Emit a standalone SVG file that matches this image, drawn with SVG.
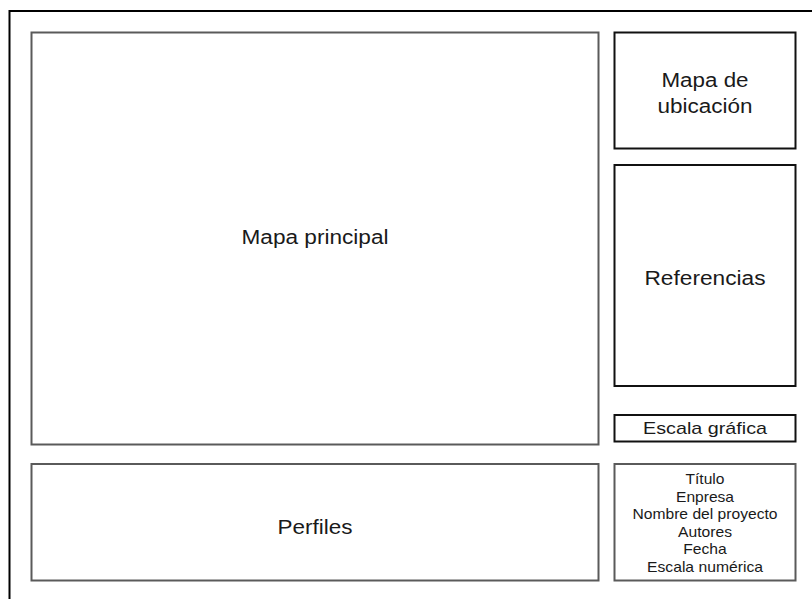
<svg xmlns="http://www.w3.org/2000/svg" width="812" height="599" viewBox="0 0 812 599">
<style>
.frame{fill:none;stroke:#000;stroke-width:2}
.g{fill:#fff;stroke:#5a5a5a;stroke-width:2}
.d{fill:#fff;stroke:#111;stroke-width:2}
text{font-family:"Liberation Sans",Arial,sans-serif;fill:#1a1a1a;text-anchor:middle}
.l{font-size:19.5px}
.m{font-size:17px}
.s{font-size:14.2px}
</style>
<rect width="812" height="599" fill="#fff"/>
<path class="frame" d="M9.5 599 V11 H812"/>
<g id="mapa-principal"><rect class="g" x="31.5" y="32.5" width="567" height="412"/><text class="l" x="315" y="244" textLength="147" lengthAdjust="spacingAndGlyphs">Mapa principal</text></g>
<g id="perfiles"><rect class="g" x="31.5" y="464" width="567" height="116.5"/><text class="l" x="315" y="534" textLength="75" lengthAdjust="spacingAndGlyphs">Perfiles</text></g>
<g id="mapa-ubicacion"><rect class="d" x="614.5" y="32.5" width="181" height="116"/><text class="l" x="705" y="87" textLength="87" lengthAdjust="spacingAndGlyphs">Mapa de</text><text class="l" x="705" y="112.5" textLength="95" lengthAdjust="spacingAndGlyphs">ubicación</text></g>
<g id="referencias"><rect class="d" x="614.5" y="165" width="181" height="221"/><text class="l" x="705" y="285" textLength="121" lengthAdjust="spacingAndGlyphs">Referencias</text></g>
<g id="escala-grafica"><rect class="d" x="614.5" y="415" width="181" height="26.5"/><text class="m" x="705" y="433.5" textLength="124" lengthAdjust="spacingAndGlyphs">Escala gráfica</text></g>
<g id="titulo"><rect class="g" x="614.5" y="464" width="181" height="116.5"/>
<text class="s" x="705" y="484" textLength="39" lengthAdjust="spacingAndGlyphs">Título</text>
<text class="s" x="705" y="501.5" textLength="58" lengthAdjust="spacingAndGlyphs">Enpresa</text>
<text class="s" x="705" y="519" textLength="145" lengthAdjust="spacingAndGlyphs">Nombre del proyecto</text>
<text class="s" x="705" y="536.5" textLength="54" lengthAdjust="spacingAndGlyphs">Autores</text>
<text class="s" x="705" y="554" textLength="43.5" lengthAdjust="spacingAndGlyphs">Fecha</text>
<text class="s" x="705" y="571.5" textLength="116" lengthAdjust="spacingAndGlyphs">Escala numérica</text></g>
<g id="connectors"/>
</svg>
